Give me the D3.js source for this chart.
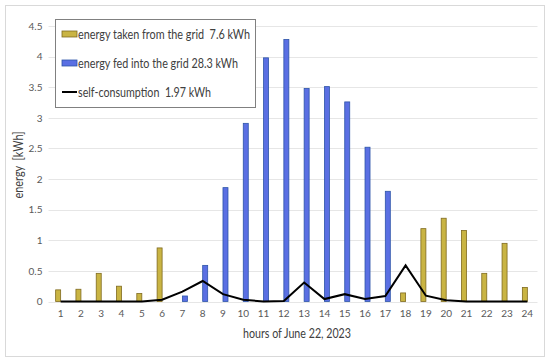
<!DOCTYPE html>
<html><head><meta charset="utf-8">
<script src="https://cdnjs.cloudflare.com/ajax/libs/d3/7.8.5/d3.min.js"></script>
<style>
html,body{margin:0;padding:0;background:#fff;}
svg{display:block;font-family:Lato,sans-serif;}
</style></head>
<body><svg id="c" width="550" height="362"></svg>
<script>
const hours = d3.range(1, 25).map(String);
const takenFromGrid = [0.19,0.2,0.46,0.25,0.13,0.875,0,0,0,0,0,0,0,0,0,0,0,0.14,1.19,1.36,1.16,0.46,0.95,0.23];
const fedIntoGrid = [0,0,0,0,0,0,0.09,0.59,1.86,2.91,3.98,4.28,3.48,3.51,3.26,2.52,1.8,0,0,0,0,0,0,0];
const selfConsumption = [0,0,0,0,0,0.03,0.16,0.335,0.12,0.03,0,0.01,0.31,0.04,0.12,0.04,0.09,0.59,0.095,0.02,0,0,0,0];
const yTicks = [0,0.5,1,1.5,2,2.5,3,3.5,4,4.5];
const legendLabels = ["energy taken from the grid\u00a0\u00a07.6 kWh","energy fed into the grid 28.3 kWh","self-consumption\u00a0\u00a01.97 kWh"];
const xTitle = "hours of June 22, 2023";
const yTitle = "energy\u00a0\u00a0[kWh]";

const svg = d3.select("#c");
const L = 50.5, R = 537.5, T = 26, B = 301.5;
svg.append("rect").attr("x",5.5).attr("y",5.5).attr("width",539).attr("height",351)
  .attr("fill","#fff").attr("stroke","#d9d9d9");

const x = d3.scaleBand().domain(hours).range([L,R]);
const y = d3.scaleLinear().domain([0,4.5]).range([B,T]);

svg.append("g").selectAll("line").data(yTicks).join("line")
  .attr("x1",L-2).attr("x2",R).attr("y1",d=>Math.round(y(d))+0.5).attr("y2",d=>Math.round(y(d))+0.5)
  .attr("stroke","#e6e6e6").attr("stroke-width",1);

const ya = svg.append("g").attr("transform",`translate(${L},0)`)
  .call(d3.axisLeft(y).tickValues(yTicks).tickSize(0).tickPadding(8).tickFormat(d=>String(d)));
ya.select(".domain").remove();
ya.selectAll("text").attr("font-size",10).attr("fill","#595959").attr("font-family","Lato");

const xa = svg.append("g").attr("transform",`translate(0,${B})`)
  .call(d3.axisBottom(x).tickSize(0).tickPadding(8));
xa.select(".domain").remove();
xa.selectAll("text").attr("font-size",10).attr("fill","#595959").attr("font-family","Lato");

const bw = 5;
svg.append("g").selectAll("rect").data(takenFromGrid.map((v,i)=>({h:hours[i],v}))).join("rect")
  .attr("x",d=>x(d.h)+x.bandwidth()/2-bw).attr("width",bw)
  .attr("y",d=>y(d.v)).attr("height",d=>B-y(d.v))
  .attr("fill","#c9b443").attr("stroke","#7f6a1f").attr("stroke-width",0.8)
  .style("display",d=>d.v>0?null:"none");
svg.append("g").selectAll("rect").data(fedIntoGrid.map((v,i)=>({h:hours[i],v}))).join("rect")
  .attr("x",d=>x(d.h)+x.bandwidth()/2).attr("width",bw)
  .attr("y",d=>y(d.v)).attr("height",d=>B-y(d.v))
  .attr("fill","#5a6fe3").attr("stroke","#2d55a8").attr("stroke-width",0.8)
  .style("display",d=>d.v>0?null:"none");

const line = d3.line().x((d,i)=>x(hours[i])+x.bandwidth()/2).y(d=>y(d));
svg.append("path").datum(selfConsumption).attr("d",line)
  .attr("fill","none").attr("stroke","#000").attr("stroke-width",2);

svg.append("text").attr("x",297).attr("y",338).attr("text-anchor","middle")
  .attr("font-size",13).attr("fill","#404040")
  .attr("textLength",108).attr("lengthAdjust","spacingAndGlyphs").text(xTitle);
svg.append("text").attr("transform","translate(23,165) rotate(-90)").attr("text-anchor","middle")
  .attr("font-size",13).attr("fill","#404040")
  .attr("textLength",67).attr("lengthAdjust","spacingAndGlyphs").text(yTitle);

const lg = svg.append("g");
lg.append("rect").attr("x",55.5).attr("y",19.5).attr("width",200).attr("height",88)
  .attr("fill","#fff").attr("stroke","#808080");
const ly = [34,63,92];
const lw = [172,160,133];
lg.append("rect").attr("x",62).attr("y",ly[0]-3).attr("width",15).attr("height",6)
  .attr("fill","#c9b443").attr("stroke","#7f6a1f").attr("stroke-width",0.8);
lg.append("rect").attr("x",62).attr("y",ly[1]-3).attr("width",15).attr("height",6)
  .attr("fill","#5a6fe3").attr("stroke","#2d55a8").attr("stroke-width",0.8);
lg.append("line").attr("x1",62).attr("x2",77).attr("y1",ly[2]).attr("y2",ly[2])
  .attr("stroke","#000").attr("stroke-width",2);
lg.selectAll("text").data(legendLabels).join("text")
  .attr("x",78).attr("y",(d,i)=>ly[i]).attr("dy","0.35em")
  .attr("font-size",13.5).attr("fill","#404040")
  .attr("textLength",(d,i)=>lw[i]).attr("lengthAdjust","spacingAndGlyphs").text(d=>d);
</script></body></html>
